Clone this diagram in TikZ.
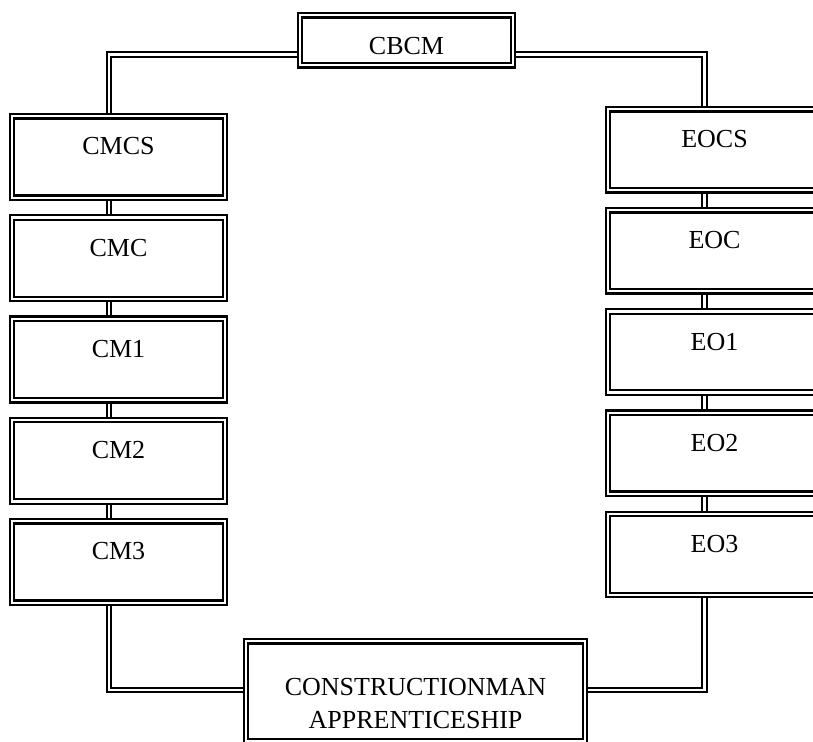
\documentclass[tikz,border=0pt]{standalone}
\usepackage{fontspec}
\setmainfont{Liberation Serif}
\pgfdeclarelayer{background}
\pgfsetlayers{background,main}
\begin{document}
\begin{tikzpicture}[x=1pt,y=-1pt,
  dbl/.style={draw=black,double=white,double distance=2.2pt,line width=2.3pt,line join=miter},
  box/.style={dbl,fill=white,inner sep=0pt,anchor=north,minimum width=213pt,
    font=\fontsize{26}{33}\selectfont},
  lbox/.style={box,text height=38.6pt,text depth=42.9pt},
  rbox/.style={box,text height=38.6pt,text depth=42.4pt}]
\useasboundingbox (0,0) rectangle (813,741);
% connector lanes
\coordinate (tl) at (109,54.5);
\coordinate (tr) at (704.5,54.5);
\coordinate (bl) at (109,690);
\coordinate (br) at (704.5,690);
% boxes
\node[box,text height=39.6pt,text depth=10.4pt] (CBCM) at (406.5,14) {CBCM};
\node[lbox] (CMCS) at (118.5,115) {CMCS};
\node[lbox] (CMC) at (118.5,216.25) {CMC};
\node[lbox] (CM1) at (118.5,317.5) {CM1};
\node[lbox] (CM2) at (118.5,418.75) {CM2};
\node[lbox] (CM3) at (118.5,520) {CM3};
\node[rbox] (EOCS) at (714.5,108) {EOCS};
\node[rbox] (EOC) at (714.5,209.2) {EOC};
\node[rbox] (EO1) at (714.5,310.4) {EO1};
\node[rbox] (EO2) at (714.5,411.6) {EO2};
\node[rbox] (EO3) at (714.5,512.8) {EO3};
\node[box,minimum width=339pt,text height=54.6pt,text depth=45.4pt] (CONS) at (415.5,640)
  {\begin{tabular}[t]{@{}c@{}}CONSTRUCTIONMAN\\APPRENTICESHIP\end{tabular}};
% connectors behind the boxes
\begin{pgfonlayer}{background}
\draw[dbl] (CBCM.west |- tl) -| (CMCS.north -| tl);
\draw[dbl] (CBCM.east |- tr) -| (EOCS.north -| tr);
\draw[dbl] (CMCS.south -| tl) -- (CMC.north -| tl);
\draw[dbl] (CMC.south -| tl) -- (CM1.north -| tl);
\draw[dbl] (CM1.south -| tl) -- (CM2.north -| tl);
\draw[dbl] (CM2.south -| tl) -- (CM3.north -| tl);
\draw[dbl] (EOCS.south -| tr) -- (EOC.north -| tr);
\draw[dbl] (EOC.south -| tr) -- (EO1.north -| tr);
\draw[dbl] (EO1.south -| tr) -- (EO2.north -| tr);
\draw[dbl] (EO2.south -| tr) -- (EO3.north -| tr);
\draw[dbl] (CM3.south -| bl) |- (CONS.west |- bl);
\draw[dbl] (EO3.south -| br) |- (CONS.east |- br);
\end{pgfonlayer}
\end{tikzpicture}
\end{document}
